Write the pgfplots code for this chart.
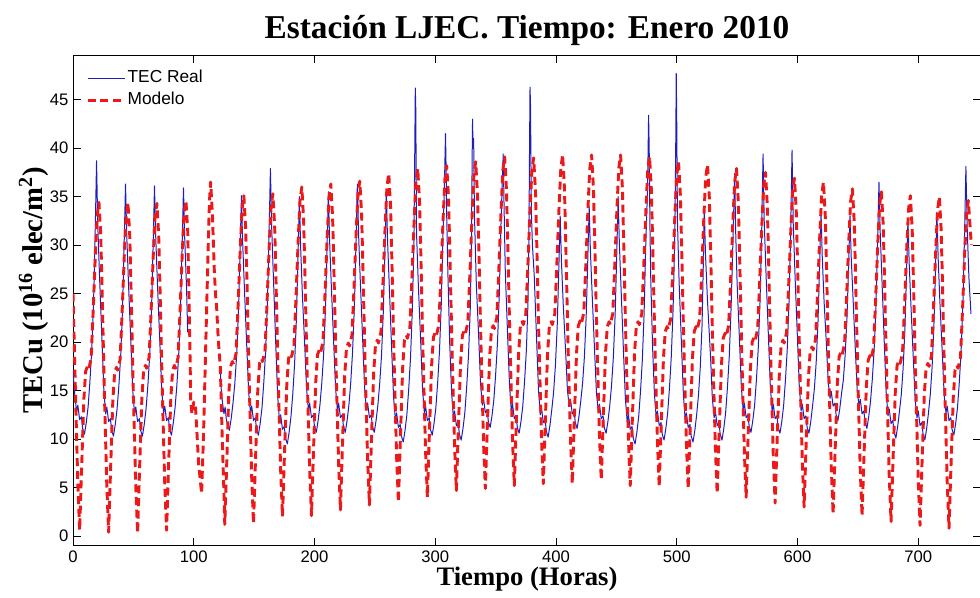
\documentclass[border=0pt]{standalone}
\usepackage{fontspec}
\setmainfont{Liberation Sans}
\newfontfamily\timesfont{Liberation Serif}
\usepackage{pgfplots}
\pgfplotsset{compat=1.18}
\definecolor{tecblue}{RGB}{30,30,190}
\definecolor{modred}{RGB}{235,25,25}
\begin{document}
\begin{tikzpicture}
\useasboundingbox (0pt,0pt) rectangle (735pt,448.5pt);
\begin{axis}[
  at={(54.75pt,39.2pt)}, anchor=south west,
  scale only axis, width=681pt, height=368pt,
  xmin=0, xmax=752, ymin=-1, ymax=49.6,
  xtick={0,100,...,700}, ytick={0,5,...,45},
  tick align=inside, major tick length=6pt,
  tick style={black, line width=0.5pt},
  axis line style={black, line width=0.6pt},
  /pgf/number format/assume math mode=true,
  tick label style={font=\fontsize{12.5}{14}\selectfont},
  title={Estación LJEC. Tiempo: Enero 2010},
  title style={at={(axis description cs:0.5,1.017)}, anchor=base, font=\timesfont\bfseries\fontsize{25}{28}\selectfont},
  xlabel={Tiempo (Horas)},
  xlabel style={at={(axis description cs:0.5,-0.081)}, anchor=base, font=\timesfont\bfseries\fontsize{20}{24}\selectfont},
  ylabel={TECu (10\textsuperscript{16} elec/m\textsuperscript{2})},
  ylabel style={at={(axis description cs:-0.034,0.52)}, anchor=base, font=\timesfont\bfseries\fontsize{21.5}{24}\selectfont},
  legend style={at={(axis description cs:0.01,0.978)}, anchor=north west, draw=none, fill=none,
    font=\fontsize{13}{15}\selectfont, row sep=2pt,
    nodes={inner sep=1pt, text height=9.5pt, text depth=3pt}},
  legend cell align=left,
  legend image code/.code={\draw[#1] (0pt,0pt) -- (27.75pt,0pt);},
  unbounded coords=jump,
]
\addplot[tecblue, line width=0.75pt, line join=round] coordinates {
(0,17.0) (1.5,14.5) (3,12.8) (4,13.5) (5.5,12.0) (7,12.3) (8,11.1) (9.5,10.5) (11,11.7) (12.5,13.3) (14,15.9) (15.5,19.1) (17,24.0) (18.3,30.8) (19.5,38.7) (20.5,32.1) (22,26.7)
(24,20.1) (25.5,15.2) (27,12.6) (28,13.3) (29.5,11.8) (31,12.1) (32,10.9) (33.5,10.3) (35,11.5) (36.5,13.1) (38,15.5) (39.5,18.6) (41,23.3) (42.3,29.8) (43.5,36.3) (44.5,31.1) (46,25.9)
(48,19.7) (49.5,15.0) (51,12.6) (52,13.3) (53.5,11.8) (55,12.1) (56,10.9) (57.5,10.3) (59,11.5) (60.5,13.1) (62,15.5) (63.5,18.6) (65,23.2) (66.3,29.7) (67.5,36.1) (68.5,30.9) (70,25.8)
(72,19.7) (73.5,15.0) (75,12.7) (76,13.4) (77.5,11.9) (79,12.2) (80,11.0) (81.5,10.4) (83,11.6) (84.5,13.2) (86,15.5) (87.5,18.6) (89,23.2) (90.3,29.5) (91.5,35.9) (92.5,30.8) (94,25.7) (95,21.0)
(108,nan)
(122,17.0) (123,14.6) (124,13.6) (125,12.6) (126,13.3) (127,12.0)
(128,11.5) (129.5,10.9) (131,12.1) (132.5,13.7) (134,15.7) (135.5,18.6) (137,23.0) (138.3,29.1) (139.5,35.1) (140.5,30.3) (142,25.4)
(144,19.3) (145.5,14.8) (147,12.7) (148,13.4) (149.5,11.9) (151,12.2) (152,11.0) (153.5,10.4) (155,11.6) (156.5,13.2) (158,15.8) (159.5,19.0) (161,23.9) (162.3,30.7) (163.5,37.9) (164.5,32.0) (166,26.6)
(168,19.5) (169.5,14.5) (171,11.8) (172,12.5) (173.5,11.0) (175,11.3) (176,10.1) (177.5,9.5) (179,10.7) (180.5,12.3) (182,14.6) (183.5,17.7) (185,22.3) (186.3,28.6) (187.5,35.0) (188.5,29.9) (190,24.8)
(192,19.4) (193.5,15.1) (195,13.0) (196,13.7) (197.5,12.2) (199,12.5) (200,11.3) (201.5,10.7) (203,11.9) (204.5,13.5) (206,15.7) (207.5,18.6) (209,23.1) (210.3,29.3) (211.5,35.5) (212.5,30.5) (214,25.6)
(216,19.6) (217.5,15.2) (219,13.0) (220,13.7) (221.5,12.2) (223,12.5) (224,11.3) (225.5,10.7) (227,11.9) (228.5,13.5) (230,15.8) (231.5,18.9) (233,23.5) (234.3,29.9) (235.5,36.3) (236.5,31.2) (238,26.1)
(240,19.9) (241.5,15.3) (243,13.0) (244,13.7) (245.5,12.2) (247,12.5) (248,11.3) (249.5,10.7) (251,11.9) (252.5,13.5) (254,15.7) (255.5,18.6) (257,23.1) (258.3,29.3) (259.5,35.5) (260.5,30.5) (262,25.6)
(264,19.0) (265.5,14.3) (267,12.0) (268,12.7) (269.5,11.2) (271,11.5) (272,10.3) (273.5,9.7) (275,10.9) (276.5,12.5) (278,15.1) (279.5,18.3) (281,23.2) (282.3,30.0) (283,39.0) (283.5,46.2) (283.9,44.0) (284.5,31.3) (286,25.9)
(288,19.9) (289.5,15.1) (291,12.7) (292,13.4) (293.5,11.9) (295,12.2) (296,11.0) (297.5,10.4) (299,11.6) (300.5,13.2) (302,15.8) (303.5,19.0) (305,23.9) (306.3,30.7) (307.5,35.5) (308,38.5) (308.5,41.5) (309,38.0) (309.5,33.0) (310.5,27.0)
(312,19.8) (313.5,14.9) (315,12.2) (316,12.9) (317.5,11.4) (319,11.7) (320,10.5) (321.5,9.9) (323,11.1) (324.5,12.7) (326,15.3) (327.5,18.5) (329,23.4) (330,30.2) (330.5,38.0) (330.9,43.0) (331.3,40.0) (331.8,41.0) (332.5,33.0) (334,26.1)
(336,20.5) (337.5,15.8) (339,13.5) (340,14.2) (341.5,12.7) (343,13.0) (344,11.8) (345.5,11.2) (347,12.4) (348.5,14.0) (350,16.6) (351.5,19.8) (353,24.7) (354.3,31.5) (355.5,36.5) (356.3,39.4) (357,34.0) (358,27.4)
(360,20.5) (361.5,15.6) (363,12.9) (364,13.6) (365.5,12.1) (367,12.4) (368,11.2) (369.5,10.6) (371,11.8) (372.5,13.4) (374,16.0) (375.5,19.2) (376.8,24.0) (377.6,31.0) (378.1,40.0) (378.5,46.3) (378.9,44.5) (379.6,33.5) (380.5,30.0) (382,26.8)
(384,20.1) (385.5,15.1) (387,12.5) (388,13.2) (389.5,11.7) (391,12.0) (392,10.8) (393.5,10.2) (395,11.4) (396.5,13.0) (398,14.8) (399.5,17.5) (401,21.6) (402.3,27.3) (403.5,33.0) (404.5,28.4) (406,23.9)
(408,19.0) (409.5,15.0) (411,13.4) (412,14.1) (413.5,12.6) (415,12.9) (416,11.7) (417.5,11.1) (419,12.3) (420.5,13.9) (422,15.7) (423.5,18.4) (425,22.6) (426.3,28.3) (427.5,34.0) (428.5,29.4) (430,24.8)
(432,19.0) (433.5,14.8) (435,12.9) (436,13.6) (437.5,12.1) (439,12.4) (440,11.2) (441.5,10.6) (443,11.8) (444.5,13.4) (446,15.5) (447.5,18.4) (449,22.8) (450.3,28.9) (451.5,35.0) (452.5,30.1) (454,25.2)
(456,18.7) (457.5,14.1) (459,11.8) (460,12.5) (461.5,11.0) (463,11.3) (464,10.1) (465.5,9.5) (467,10.7) (468.5,12.3) (470,14.9) (471.5,18.1) (473,23.0) (474.3,29.8) (475.5,34.5) (476.2,39.0) (476.7,43.4) (477.2,40.0) (477.8,32.0) (478.5,26.5)
(480,19.5) (481.5,14.7) (483,12.2) (484,12.9) (485.5,11.4) (487,11.7) (488,10.5) (489.5,9.9) (491,11.1) (492.5,12.7) (494,15.3) (495.5,18.5) (497,23.4) (498.3,30.2) (499.1,39.0) (499.6,47.7) (500,43.0) (500.6,32.5) (502,26.1)
(504,19.5) (505.5,14.6) (507,12.0) (508,12.7) (509.5,11.2) (511,11.5) (512,10.3) (513.5,9.7) (515,10.9) (516.5,12.5) (518,14.5) (519.5,17.4) (521,21.8) (522,27.9) (522.8,33.9) (523.8,29.1) (525.5,24.2)
(528,18.5) (529.5,14.2) (531,12.2) (532,12.9) (533.5,11.4) (535,11.7) (536,10.5) (537.5,9.9) (539,11.1) (540.5,12.7) (542,15.3) (543.5,18.5) (545,23.4) (546.5,30.2) (548,37.4) (548.8,31.5) (550,26.1)
(552,20.1) (553.5,15.4) (555,13.0) (556,13.7) (557.5,12.2) (559,12.5) (560,11.3) (561.5,10.7) (563,11.9) (564.5,13.5) (566,16.1) (567.5,19.3) (569,24.2) (570.3,31.0) (571.5,39.4) (572.5,32.3) (574,26.9)
(576,20.4) (577.5,15.5) (579,12.9) (580,13.6) (581.5,12.1) (583,12.4) (584,11.2) (585.5,10.6) (587,11.8) (588.5,13.4) (590,16.0) (591.5,19.2) (593,24.1) (594.3,30.9) (595.5,39.8) (596.5,32.2) (598,26.8)
(600,20.3) (601.5,15.5) (603,12.9) (604,13.6) (605.5,12.1) (607,12.4) (608,11.2) (609.5,10.6) (611,11.8) (612.5,13.4) (614,15.2) (615.5,17.9) (617,22.1) (618.3,27.8) (619.5,33.5) (620.5,28.9) (622,24.3)
(624,19.7) (625.5,15.8) (627,14.2) (628,14.9) (629.5,13.4) (631,13.7) (632,12.5) (633.5,11.9) (635,13.1) (636.5,14.7) (638,16.1) (639.5,18.7) (641,22.5) (642.3,27.7) (643.5,33.0) (644.5,28.8) (646,24.6)
(648,19.0) (649.5,15.0) (651,13.4) (652,14.1) (653.5,12.6) (655,12.9) (656,11.7) (657.5,11.1) (659,12.3) (660.5,13.9) (662,16.2) (663.5,19.2) (665,23.8) (666.3,30.2) (667.5,36.5) (668.5,31.4) (670,26.3)
(672,19.6) (673.5,14.8) (675,12.4) (676,13.1) (677.5,11.6) (679,11.9) (680,10.7) (681.5,10.1) (683,11.3) (684.5,12.9) (686,14.6) (687.5,17.3) (689,21.4) (690.3,27.1) (691.5,32.7) (692.5,28.2) (694,23.7)
(696,18.1) (697.5,14.0) (699,12.2) (700,12.9) (701.5,11.4) (703,11.7) (704,10.5) (705.5,9.9) (707,11.1) (708.5,12.7) (710,14.6) (711.5,17.4) (713,21.7) (714.3,27.5) (715.5,33.4) (716.5,28.7) (718,24.0)
(720,18.7) (721.5,14.5) (723,12.7) (724,13.4) (725.5,11.9) (727,12.2) (728,11.0) (729.5,10.4) (731,11.6) (732.5,13.2) (734,15.8) (735.5,19.0) (737,23.9) (738.3,30.7) (739.5,38.1) (740.5,32.0) (742,26.6) (743.7,22.9)
};
\addlegendentry{TEC Real}
\addplot[modred, line width=2.2pt, dash pattern=on 6pt off 3.5pt, line join=round] coordinates {
(0,25.0) (2,15.0) (4,5.4) (5.5,0.6) (7,6.5) (9,14.1) (10.5,17.0) (12,17.5) (13,17.2) (15,18.3) (16.5,22.6) (18.5,29.0) (20,33.0) (21.5,34.4) (23,31.0)
(24,25.9) (26,14.7) (28,5.2) (29.5,0.4) (31,6.4) (33,14.0) (34.5,16.9) (36,17.4) (37,17.1) (39,18.2) (40.5,22.5) (42.5,29.0) (44,33.0) (45.5,34.4) (47,31.0)
(48,25.9) (50,14.6) (52,5.1) (53.5,0.3) (55,6.4) (57,14.1) (58.5,17.1) (60,17.6) (61,17.3) (63,18.4) (64.5,22.6) (66.5,29.0) (68,33.0) (69.5,34.3) (71,30.9)
(72,25.9) (74,14.8) (76,5.3) (77.5,0.6) (79,6.6) (81,14.2) (82.5,17.1) (84,17.6) (85,17.3) (87,18.4) (88.5,22.7) (90.5,29.2) (92,33.2) (93.5,34.6)
(95,31.5) (96.5,22.0) (97.5,14.0) (98.5,12.6) (100,13.8) (101.5,13.2) (102.5,11.0) (104,7.5) (106.5,4.4) (108,10.0) (110,20.0) (112,30.0) (113,34.5) (114,36.5) (115.5,33.0) (117,27.5) (118,25.0) (119,23.5) (120,21.0) (121,19.0) (122,17.5) (123.5,10.5) (125,4.5) (125.7,1.2)
(127.2,7.0) (129,14.6) (130.5,17.5) (132,18.0) (133,17.7) (135,18.8) (136.5,23.1) (138.5,29.6) (140,33.7) (141.5,35.1) (143,31.7)
(144,26.7) (146,15.5) (148,6.0) (149.5,1.3) (151,7.3) (153,14.9) (154.5,17.8) (156,18.3) (157,18.0) (159,19.1) (160.5,23.4) (162.5,29.9) (164,33.9) (165.5,35.3) (167,32.0)
(168,27.0) (170,16.0) (172,6.7) (173.5,2.0) (175,7.9) (177,15.4) (178.5,18.3) (180,18.8) (181,18.5) (183,19.6) (184.5,24.0) (186.5,30.5) (188,34.6) (189.5,36.0) (191,32.6)
(192,27.5) (194,16.3) (196,6.8) (197.5,2.1) (199,8.1) (201,15.8) (202.5,18.7) (204,19.2) (205,18.9) (207,20.0) (208.5,24.3) (210.5,30.8) (212,34.9) (213.5,36.3) (215,32.9)
(216,27.9) (218,16.8) (220,7.4) (221.5,2.7) (223,8.7) (225,16.5) (226.5,19.4) (228,19.9) (229,19.6) (231,20.7) (232.5,24.9) (234.5,31.3) (236,35.3) (237.5,36.6) (239,33.3)
(240,28.3) (242,17.2) (244,7.9) (245.5,3.2) (247,9.2) (249,16.8) (250.5,19.7) (252,20.2) (253,19.9) (255,21.0) (256.5,25.4) (258.5,31.9) (260,36.0) (261.5,37.4) (263,34.0)
(264,28.9) (266,17.7) (268,8.2) (269.5,3.5) (271,9.5) (273,17.3) (274.5,20.2) (276,20.7) (277,20.4) (279,21.5) (280.5,25.9) (282.5,32.4) (284,36.5) (285.5,37.9) (287,34.5)
(288,29.4) (290,18.2) (292,8.7) (293.5,4.0) (295,10.0) (297,17.6) (298.5,20.5) (300,21.0) (301,20.7) (303,21.8) (304.5,26.2) (306.5,32.7) (308,36.8) (309.5,38.2) (311,34.9)
(312,29.8) (314,18.8) (316,9.4) (317.5,4.7) (319,10.5) (321,17.9) (322.5,20.7) (324,21.2) (325,20.9) (327,22.0) (328.5,26.4) (330.5,33.0) (332,37.2) (333.5,38.6) (335,35.2)
(336,30.2) (338,19.1) (340,9.6) (341.5,4.9) (343,10.8) (345,18.3) (346.5,21.2) (348,21.7) (349,21.4) (351,22.5) (352.5,26.9) (354.5,33.5) (356,37.7) (357.5,39.1) (359,35.7)
(360,30.6) (362,19.4) (364,9.9) (365.5,5.2) (367,11.1) (369,18.7) (370.5,21.6) (372,22.1) (373,21.8) (375,22.9) (376.5,27.2) (378.5,33.6) (380,37.6) (381.5,39.0) (383,35.6)
(384,30.6) (386,19.5) (388,10.1) (389.5,5.4) (391,11.2) (393,18.8) (394.5,21.6) (396,22.1) (397,21.8) (399,22.9) (400.5,27.3) (402.5,33.8) (404,37.9) (405.5,39.3) (407,35.9)
(408,30.8) (410,19.6) (412,10.1) (413.5,5.4) (415,11.3) (417,18.8) (418.5,21.7) (420,22.2) (421,21.9) (423,23.0) (424.5,27.3) (426.5,33.8) (428,37.9) (429.5,39.3) (431,35.9)
(432,30.9) (434,19.9) (436,10.4) (437.5,5.8) (439,11.5) (441,18.8) (442.5,21.6) (444,22.1) (445,21.8) (447,22.9) (448.5,27.3) (450.5,33.8) (452,37.9) (453.5,39.3) (455,35.9)
(456,30.8) (458,19.5) (460,10.0) (461.5,5.2) (463,11.1) (465,18.7) (466.5,21.6) (468,22.1) (469,21.8) (471,22.9) (472.5,27.2) (474.5,33.7) (476,37.7) (477.5,39.1) (479,35.7)
(480,30.6) (482,19.4) (484,9.9) (485.5,5.1) (487,10.9) (489,18.3) (490.5,21.1) (492,21.6) (493,21.3) (495,22.4) (496.5,26.7) (498.5,33.2) (500,37.2) (501.5,38.6) (503,35.2)
(504,30.2) (506,19.1) (508,9.6) (509.5,4.9) (511,10.7) (513,18.3) (514.5,21.1) (516,21.6) (517,21.3) (519,22.4) (520.5,26.6) (522.5,33.0) (524,37.0) (525.5,38.3) (527,34.9)
(528,29.8) (530,18.6) (532,9.1) (533.5,4.4) (535,10.2) (537,17.6) (538.5,20.4) (540,20.9) (541,20.6) (543,21.7) (544.5,26.0) (546.5,32.5) (548,36.5) (549.5,37.9) (551,34.5)
(552,29.4) (554,18.2) (556,8.7) (557.5,4.0) (559,9.8) (561,17.2) (562.5,20.0) (564,20.5) (565,20.2) (567,21.3) (568.5,25.6) (570.5,32.1) (572,36.1) (573.5,37.5) (575,34.1)
(576,29.0) (578,17.7) (580,8.1) (581.5,3.4) (583,9.3) (585,16.8) (586.5,19.7) (588,20.2) (589,19.9) (591,21.0) (592.5,25.2) (594.5,31.6) (596,35.6) (597.5,36.9) (599,33.5)
(600,28.4) (602,17.2) (604,7.7) (605.5,3.0) (607,8.8) (609,16.2) (610.5,19.0) (612,19.5) (613,19.2) (615,20.3) (616.5,24.6) (618.5,31.1) (620,35.1) (621.5,36.5) (623,33.1)
(624,28.0) (626,16.7) (628,7.1) (629.5,2.3) (631,8.1) (633,15.7) (634.5,18.5) (636,19.0) (637,18.7) (639,19.8) (640.5,24.0) (642.5,30.4) (644,34.5) (645.5,35.8) (647,32.4)
(648,27.4) (650,16.3) (652,6.8) (653.5,2.1) (655,7.9) (657,15.3) (658.5,18.1) (660,18.6) (661,18.3) (663,19.4) (664.5,23.7) (666.5,30.1) (668,34.1) (669.5,35.5) (671,32.1)
(672,27.0) (674,15.8) (676,6.2) (677.5,1.5) (679,7.3) (681,14.8) (682.5,17.6) (684,18.1) (685,17.8) (687,18.9) (688.5,23.2) (690.5,29.7) (692,33.7) (693.5,35.1) (695,31.7)
(696,26.6) (698,15.4) (700,5.9) (701.5,1.1) (703,6.9) (705,14.5) (706.5,17.3) (708,17.8) (709,17.5) (711,18.6) (712.5,23.0) (714.5,29.5) (716,33.6) (717.5,35.0) (719,31.6)
(720,26.5) (722,15.2) (724,5.6) (725.5,0.8) (727,6.7) (729,14.2) (730.5,17.1) (732,17.6) (733,17.3) (735,18.4) (736.5,22.7) (738.5,29.2) (740,33.2) (741.5,34.6) (744,30.0)
};
\addlegendentry{Modelo}
\end{axis}
\end{tikzpicture}
\end{document}
